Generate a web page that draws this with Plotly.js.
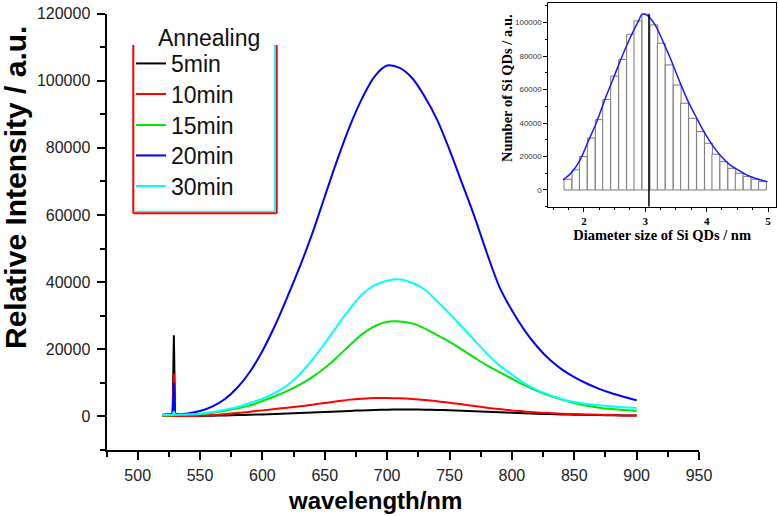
<!DOCTYPE html>
<html>
<head>
<meta charset="utf-8">
<script src="https://cdn.plot.ly/plotly-3.0.1.min.js"></script>
<style>html,body{margin:0;padding:0;background:#fff}#chart{width:778px;height:516px}</style>
</head>
<body>
<div id="chart"></div>
<script>
// ---------- main PL spectra data ----------
const wavelength = [520,528,529,530,540,550,560,570,580,590,600,610,620,630,640,650,660,670,680,690,700,710,720,730,740,750,760,770,780,790,800,810,820,830,840,850,860,870,880,890,900];
const anneal5min  = [100,100,24200,100,100,150,200,300,400,500,600,750,900,1050,1200,1350,1500,1650,1800,1900,2000,2050,2050,2000,1950,1850,1700,1550,1400,1250,1100,950,800,700,600,500,450,400,350,300,300];
const anneal10min = [100,100,12800,100,100,200,400,700,1000,1400,1800,2200,2600,3000,3500,4000,4500,5000,5300,5500,5500,5400,5200,4900,4500,4100,3600,3100,2600,2200,1800,1500,1200,1000,800,700,600,500,400,300,300];
const anneal15min = [300,350,2000,400,500,700,1100,1700,2400,3300,4600,6000,7600,9500,11700,14400,17700,21200,24500,26900,28200,28300,27700,26200,24200,22200,19900,17500,15200,13200,11200,9300,7600,6200,5000,4000,3200,2600,2200,1900,1600];
const anneal20min = [600,650,10000,700,900,1600,3000,5200,8600,13300,19500,27000,35600,44600,54500,65500,76400,86400,94800,101300,104500,103800,100800,95300,88400,79400,69500,59500,48600,38600,31600,25700,20900,17000,14000,11700,9800,8200,6900,5800,4800];
const anneal30min = [400,450,1500,500,600,800,1300,2000,2800,4000,5300,7000,9300,12600,16900,21800,27000,32000,36400,39100,40400,40800,39800,37800,34300,30600,26700,22700,18700,15200,12500,9900,7900,6400,5200,4300,3700,3300,3000,2700,2500];
const seriesNames = ['5min','10min','15min','20min','30min'];
const seriesColors = ['#000000','#ff0000','#00e600','#0000ff','#00ffff'];
const spikeWavelength = 529;
const xTickVals = [500,550,600,650,700,750,800,850,900,950];
const yTickVals = [0,20000,40000,60000,80000,100000,120000];

// ---------- inset size distribution data ----------
const diameter = [1.74,1.87,1.99,2.12,2.25,2.37,2.50,2.63,2.76,2.88,3.01,3.14,3.26,3.39,3.52,3.64,3.77,3.90,4.03,4.15,4.28,4.41,4.53,4.66,4.79,4.91];
const qdCount  = [6400,12000,20000,31000,42000,54000,68000,78000,93000,101000,105000,98600,87600,74700,62700,51800,42800,34900,27900,21300,16900,12900,10000,8000,6400,5000];
const fitDiameter = [1.66,1.80,1.94,2.07,2.21,2.34,2.48,2.61,2.75,2.89,2.95,3.02,3.16,3.29,3.43,3.57,3.70,3.84,3.97,4.11,4.25,4.38,4.52,4.65,4.79,4.99];
const fitCount = [6000,10500,18000,29000,40800,53800,66700,78700,90600,101000,105000,104600,98600,88600,76700,63800,52800,42800,33900,25900,19500,15000,11800,9000,7000,4960];
const markerDiameter = 3.06;
const markerTop = 105000;

const W = 778, H = 516;
const px = v => v / W;
const py = v => 1 - v / H;

const spectra = [anneal5min, anneal10min, anneal15min, anneal20min, anneal30min];
const si = wavelength.indexOf(spikeWavelength);
const traces = [];
spectra.forEach((ys, i) => {
  const bx = wavelength.filter((_, k) => k !== si);
  const by = ys.filter((_, k) => k !== si);
  traces.push({
    type: 'scatter', mode: 'lines', x: bx, y: by,
    name: seriesNames[i], line: {color: seriesColors[i], width: 2, shape: 'spline', smoothing: 0.9},
    xaxis: 'x', yaxis: 'y', legend: i === 0 ? 'legend' : 'legend' + (i + 1)
  });
  traces.push({
    type: 'scatter', mode: 'lines', x: wavelength.slice(si - 1, si + 2), y: ys.slice(si - 1, si + 2),
    line: {color: seriesColors[i], width: 2}, xaxis: 'x', yaxis: 'y', showlegend: false
  });
});

traces.push({
  type: 'bar', x: diameter, y: qdCount, width: 0.127,
  marker: {color: '#ffffff', line: {color: '#7a7a7a', width: 1}},
  xaxis: 'x2', yaxis: 'y2', showlegend: false, hoverinfo: 'skip'
});
traces.push({
  type: 'scatter', mode: 'lines', x: fitDiameter, y: fitCount,
  line: {color: '#1a1aff', width: 1.5, shape: 'spline', smoothing: 0.8},
  xaxis: 'x2', yaxis: 'y2', showlegend: false
});

const sans = 'Liberation Sans, Arial, sans-serif';
const serif = 'Liberation Serif, Times New Roman, serif';

const entryY = [63.5, 94, 125, 155.5, 186];
const legendBase = {
  x: px(131), xanchor: 'left', yanchor: 'middle',
  bgcolor: 'rgba(0,0,0,0)', borderwidth: 0,
  font: {family: sans, size: 23, color: '#111'}
};

const layout = {
  width: W, height: H,
  margin: {l: 0, r: 0, t: 0, b: 0},
  paper_bgcolor: '#ffffff', plot_bgcolor: 'rgba(0,0,0,0)',
  showlegend: true,
  font: {family: sans, color: '#000'},
  xaxis: {
    domain: [px(106.5), px(699)], range: [475, 950], anchor: 'y',
    showline: true, linecolor: '#000', linewidth: 2, zeroline: false, showgrid: false,
    ticks: 'outside', ticklen: 8, tickwidth: 2, tickcolor: '#000',
    tickvals: xTickVals, ticklabelstandoff: 2,
    minor: {ticks: 'outside', ticklen: 5, tickwidth: 2, tickcolor: '#000', dtick: 25, tick0: 475, showgrid: false},
    tickfont: {family: sans, size: 16, color: '#222'}
  },
  yaxis: {
    domain: [py(450), py(13.5)], range: [-10000, 120000], anchor: 'x',
    showline: true, linecolor: '#000', linewidth: 2, zeroline: false, showgrid: false,
    ticks: 'outside', ticklen: 8, tickwidth: 2, tickcolor: '#000',
    tickvals: yTickVals, tickformat: 'd', ticklabelstandoff: 3,
    minor: {ticks: 'outside', ticklen: 5, tickwidth: 2, tickcolor: '#000', dtick: 10000, tick0: -10000, showgrid: false},
    tickfont: {family: sans, size: 16, color: '#222'}
  },
  xaxis2: {
    domain: [px(548.3), px(776)], range: [1.42, 5.13], anchor: 'y2',
    showline: true, mirror: true, linecolor: '#000', linewidth: 1, zeroline: false, showgrid: false,
    ticks: 'outside', ticklen: 4, tickwidth: 1, tickcolor: '#000',
    tick0: 0, dtick: 1,
    minor: {ticks: 'outside', ticklen: 2, tickwidth: 1, tickcolor: '#000', dtick: 0.25, showgrid: false},
    tickfont: {family: serif, size: 11, color: '#000', weight: 'bold'},
    title: {text: 'Diameter size of Si QDs / nm', font: {family: serif, size: 14.5, color: '#000', weight: 'bold'}, standoff: 0}
  },
  yaxis2: {
    domain: [py(206.7), py(3.3)], range: [-10000, 111500], anchor: 'x2',
    showline: true, mirror: true, linecolor: '#000', linewidth: 1, zeroline: false, showgrid: false,
    ticks: 'outside', ticklen: 4, tickwidth: 1, tickcolor: '#000',
    tick0: 0, dtick: 20000, tickformat: 'd',
    minor: {ticks: 'outside', ticklen: 2, tickwidth: 1, tickcolor: '#000', dtick: 10000, showgrid: false},
    tickfont: {family: sans, size: 8, color: '#333'}
  },
  legend:  Object.assign({}, legendBase, {y: py(entryY[0])}),
  legend2: Object.assign({}, legendBase, {y: py(entryY[1])}),
  legend3: Object.assign({}, legendBase, {y: py(entryY[2])}),
  legend4: Object.assign({}, legendBase, {y: py(entryY[3])}),
  legend5: Object.assign({}, legendBase, {y: py(entryY[4])}),
  annotations: [
    {xref: 'paper', yref: 'paper', x: px(209), y: py(38), xanchor: 'center', yanchor: 'middle',
     text: 'Annealing', showarrow: false, font: {family: sans, size: 23, color: '#111'}},
    {xref: 'paper', yref: 'paper', x: px(15), y: py(188), xanchor: 'center', yanchor: 'middle', textangle: -90,
     text: '<b>Relative Intensity / a.u.</b>', showarrow: false, font: {family: sans, size: 30, color: '#000'}},
    {xref: 'paper', yref: 'paper', x: px(375), y: py(500), xanchor: 'center', yanchor: 'middle',
     text: '<b>wavelength/nm</b>', showarrow: false, font: {family: sans, size: 24, color: '#000'}},
    {xref: 'paper', yref: 'paper', x: px(507), y: py(88), xanchor: 'center', yanchor: 'middle', textangle: -90,
     text: '<b>Number of Si QDs / a.u.</b>', showarrow: false, font: {family: serif, size: 14.5, color: '#000'}}
  ],
  shapes: [
    {type: 'line', xref: 'paper', yref: 'paper', x0: px(274.8), x1: px(274.8), y0: py(45), y1: py(211.5), line: {color: '#00ffff', width: 1.5}},
    {type: 'line', xref: 'paper', yref: 'paper', x0: px(135), x1: px(274.8), y0: py(211.5), y1: py(211.5), line: {color: '#00ffff', width: 1.5}},
    {type: 'line', xref: 'paper', yref: 'paper', x0: px(133.3), x1: px(133.3), y0: py(45), y1: py(213.3), line: {color: '#ff0000', width: 2}},
    {type: 'line', xref: 'paper', yref: 'paper', x0: px(133.3), x1: px(276.7), y0: py(213.3), y1: py(213.3), line: {color: '#ff0000', width: 2}},
    {type: 'line', xref: 'paper', yref: 'paper', x0: px(276.7), x1: px(276.7), y0: py(45), y1: py(213.3), line: {color: '#ff0000', width: 2}},
    {type: 'line', xref: 'x2', yref: 'y2', x0: markerDiameter, x1: markerDiameter, y0: -10000, y1: markerTop, line: {color: '#000', width: 1.5}}
  ]
};

Plotly.newPlot('chart', traces, layout, {staticPlot: true, displayModeBar: false});
</script>
</body>
</html>
